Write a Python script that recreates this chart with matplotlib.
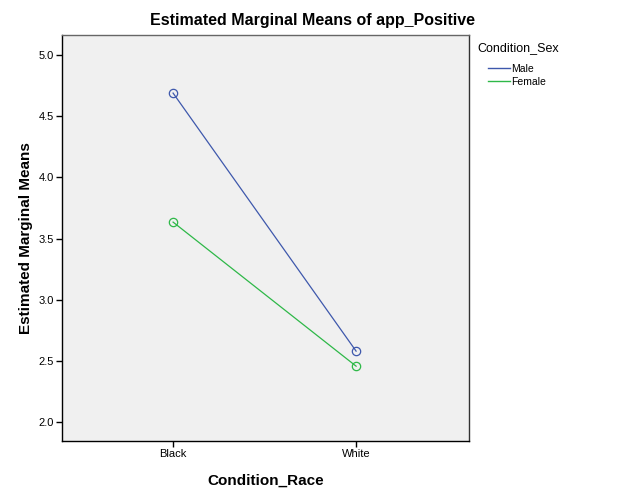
import matplotlib
matplotlib.use("Agg")
import matplotlib.pyplot as plt
from matplotlib.lines import Line2D

plt.rcParams['font.family'] = ['Liberation Sans', 'DejaVu Sans']

categories = ["Black", "White"]
series_names = ["Male", "Female"]
male_values = [4.69, 2.58]
female_values = [3.635, 2.457]
y_ticks = [2.0, 2.5, 3.0, 3.5, 4.0, 4.5, 5.0]
colors = {"Male": "#3E58AC", "Female": "#2EB848"}

W, H = 626, 501
fig = plt.figure(figsize=(W / 100, H / 100), dpi=100)
ax = fig.add_axes([62 / W, (H - 441) / H, (469 - 62) / W, (441 - 35) / H])
ax.set_facecolor("#F0F0F0")

x = list(range(len(categories)))
for name, vals in zip(series_names, [male_values, female_values]):
    ax.plot(x, vals, color=colors[name], lw=0.9, marker='o', markersize=6,
            markerfacecolor='none', markeredgecolor=colors[name], markeredgewidth=0.9)

ax.set_xlim(-0.607, 1.617)
ax.set_ylim(1.845, 5.165)
ax.set_xticks(x)
ax.set_xticklabels(categories, fontsize=8)
ax.set_yticks(y_ticks)
ax.set_yticklabels([f"{v:.1f}" for v in y_ticks], fontsize=8)
ax.tick_params(direction='out', length=4, width=1, color='black', pad=2)
for s in ax.spines.values():
    s.set_color('black')
    s.set_linewidth(1)
ax.spines['top'].set_color('#666666')
ax.spines['right'].set_color('#333333')

ax.set_xlabel("Condition_Race", fontsize=11, fontweight='bold', labelpad=10)
ax.set_ylabel("Estimated Marginal Means", fontsize=11, fontweight='bold', labelpad=4)
fig.text(0.5, 1 - 21 / H, "Estimated Marginal Means of app_Positive", fontsize=11.5,
         fontweight='bold', ha='center', va='center')

fig.text(477 / W, 1 - 48 / H, "Condition_Sex", fontsize=9, va='center', ha='left')
handles = [Line2D([0], [0], color=colors[n], lw=1) for n in series_names]
leg = fig.legend(handles, series_names, loc='upper left', bbox_to_anchor=(488 / W, 1 - 64 / H),
                 frameon=False, fontsize=7.5, handlelength=2.1, handletextpad=0.1,
                 labelspacing=0.25, borderpad=0, borderaxespad=0)

fig.savefig("out.png", dpi=100)
